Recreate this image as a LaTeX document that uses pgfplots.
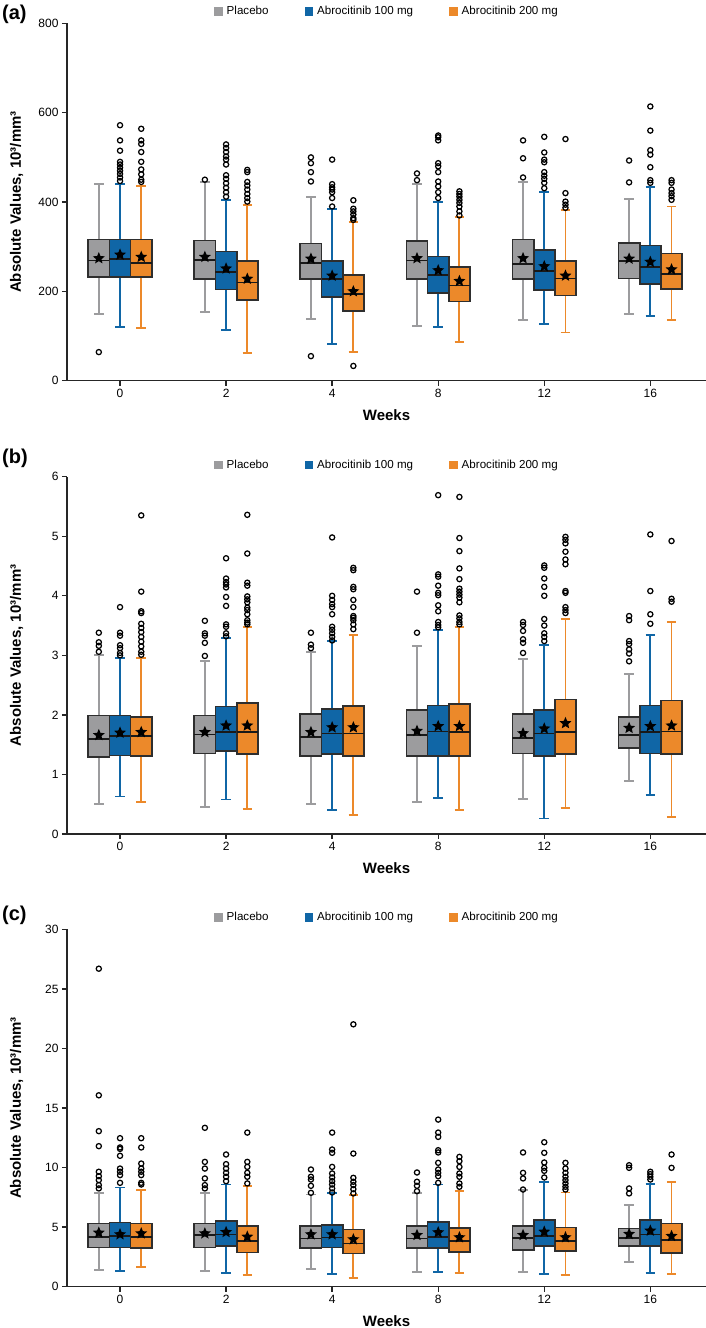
\documentclass[border=0pt]{standalone}
\usepackage{fontspec}
\setmainfont{Liberation Sans}
\usepackage{pgfplots}
\pgfplotsset{compat=1.18}
\usepgfplotslibrary{statistics}

\definecolor{cgray}{RGB}{156,156,158}
\definecolor{cblue}{RGB}{16,102,166}
\definecolor{corange}{RGB}{236,137,42}

\pgfdeclareplotmark{fstar}{%
 \pgfpathmoveto{\pgfpointpolar{90}{\pgfplotmarksize}}%
 \pgfpathlineto{\pgfpointpolar{126}{0.45\pgfplotmarksize}}%
 \pgfpathlineto{\pgfpointpolar{162}{\pgfplotmarksize}}%
 \pgfpathlineto{\pgfpointpolar{198}{0.45\pgfplotmarksize}}%
 \pgfpathlineto{\pgfpointpolar{234}{\pgfplotmarksize}}%
 \pgfpathlineto{\pgfpointpolar{270}{0.45\pgfplotmarksize}}%
 \pgfpathlineto{\pgfpointpolar{306}{\pgfplotmarksize}}%
 \pgfpathlineto{\pgfpointpolar{342}{0.45\pgfplotmarksize}}%
 \pgfpathlineto{\pgfpointpolar{18}{\pgfplotmarksize}}%
 \pgfpathlineto{\pgfpointpolar{54}{0.45\pgfplotmarksize}}%
 \pgfpathclose
 \pgfusepathqfill
}

\pgfplotsset{
 panel/.style={
  scale only axis, width=639pt, height=357.3pt, anchor=south west,
  xmin=-0.5, xmax=5.525,
  boxplot/draw direction=y,
  axis x line*=bottom, axis y line*=left,
  axis line style={line width=1.6pt, black!85},
  xtick={0,...,5}, xticklabels={0,2,4,8,12,16},
  tick align=outside, major tick length=5pt,
  every tick/.style={black!85, line width=1.3pt},
  tick label style={font=\fontsize{12}{13}\selectfont},
  /pgf/number format/assume math mode=true,
  xlabel={Weeks}, ylabel={Absolute Values, 10³/mm³},
  label style={font=\bfseries\fontsize{15}{18}\selectfont},
  xlabel style={at={(axis description cs:0.5,0)}, anchor=base, yshift=-39.7pt},
  ylabel style={at={(axis description cs:-0.072,0.5)}, anchor=base},
  legend columns=3,
  legend style={at={(axis description cs:0.5,1)}, anchor=center, yshift=12pt,
    draw=none, fill=none, inner sep=0pt, font=\fontsize{11.6}{13}\selectfont,
    nodes={inner sep=1pt}, column sep=3.5pt,
    /tikz/every even column/.append style={column sep=35pt}},
 },
 bxs/.style={line width=1.6pt, draw=#1,
   boxplot/draw direction=y,
   boxplot/box extend=0.2, boxplot/whisker extend=0.09,
   boxplot/every box/.style={draw=black!82, line width=1.7pt, fill=#1},
   boxplot/every whisker/.style={draw=#1, line width=1.9pt},
   boxplot/every median/.style={draw=black!90, line width=1.7pt}},
 outl/.style={mark=o, mark size=2.6pt, mark options={draw=black, solid, line width=1.25pt, fill=none}},
 meanstar/.style={only marks, mark=fstar, mark size=6.3pt, black},
}

% #1 position, #2 colour, #3 lower whisker, #4 lower quartile, #5 median,
% #6 upper quartile, #7 upper whisker, #8 outliers
\newcommand{\bx}[8]{%
 \addplot[bxs=#2, boxplot prepared={draw position=#1, lower whisker=#3,
   lower quartile=#4, median=#5, upper quartile=#6, upper whisker=#7}, outl]
   table[row sep=\\, x expr=#1, y index=0]{v\\ #8};
}
\newcommand{\legendset}{%
 \addlegendimage{legend image code/.code={\fill[cgray] (0pt,-3.8pt) rectangle (7.6pt,3.8pt);}}
 \addlegendentry{Placebo}
 \addlegendimage{legend image code/.code={\fill[cblue] (0pt,-3.8pt) rectangle (7.6pt,3.8pt);}}
 \addlegendentry{Abrocitinib 100 mg}
 \addlegendimage{legend image code/.code={\fill[corange] (0pt,-3.8pt) rectangle (7.6pt,3.8pt);}}
 \addlegendentry{Abrocitinib 200 mg}
}

\begin{document}
\begin{tikzpicture}
\useasboundingbox (0pt,0pt) rectangle (706pt,1328pt);

% ---------------- (a) ----------------
\begin{axis}[panel, at={(67pt,947.3pt)}, ymin=0, ymax=800, ytick={0,200,...,800}]
\legendset
\bx{-0.2}{cgray}{150}{232}{269}{316}{440}{64\\}
\bx{0}{cblue}{120}{232}{272}{316}{440}{447\\455\\463\\470\\477\\484\\490\\515\\538\\572\\}
\bx{0.2}{corange}{117}{232}{264}{316}{436}{445\\450\\462\\473\\490\\512\\530\\538\\564\\}
\bx{0.8}{cgray}{153}{228}{271}{314}{444}{450\\}
\bx{1}{cblue}{114}{204}{243}{289}{405}{412\\422\\432\\442\\452\\460\\484\\495\\502\\512\\521\\529\\}
\bx{1.2}{corange}{61}{180}{220}{268}{394}{401\\409\\418\\428\\437\\445\\467\\472\\}
\bx{1.8}{cgray}{138}{227}{264}{307}{412}{55\\446\\467\\487\\500\\}
\bx{2}{cblue}{83}{188}{227}{268}{384}{390\\409\\422\\428\\433\\440\\495\\}
\bx{2.2}{corange}{64}{156}{194}{236}{355}{33\\360\\364\\372\\379\\385\\404\\}
\bx{2.8}{cgray}{123}{228}{269}{313}{440}{449\\464\\}
\bx{3}{cblue}{120}{196}{236}{278}{401}{409\\422\\435\\446\\467\\480\\487\\538\\545\\549\\}
\bx{3.2}{corange}{87}{177}{213}{255}{366}{370\\379\\390\\398\\405\\412\\418\\424\\}
\bx{3.8}{cgray}{136}{228}{262}{316}{444}{455\\498\\538\\}
\bx{4}{cblue}{127}{203}{246}{292}{423}{431\\443\\452\\459\\467\\489\\495\\511\\546\\}
\bx{4.2}{corange}{108}{191}{229}{268}{382}{387\\394\\401\\420\\541\\}
\bx{4.8}{cgray}{149}{229}{268}{309}{407}{444\\493\\}
\bx{5}{cblue}{144}{216}{254}{303}{433}{443\\449\\478\\506\\516\\560\\614\\}
\bx{5.2}{corange}{136}{206}{239}{285}{390}{405\\413\\420\\428\\443\\449\\}
\addplot[meanstar] coordinates {(-0.2,274) (0.8,277) (1.8,273) (2.8,274) (3.8,274) (4.8,273)};
\addplot[meanstar] coordinates {(0,282) (1,251) (2,235) (3,247) (4,256) (5,266)};
\addplot[meanstar] coordinates {(0.2,277) (1.2,228) (2.2,200) (3.2,223) (4.2,235) (5.2,249)};
\end{axis}

% ---------------- (b) ----------------
\begin{axis}[panel, at={(67pt,494pt)}, ymin=0, ymax=6, ytick={0,1,...,6}]
\legendset
\bx{-0.2}{cgray}{0.50}{1.29}{1.59}{1.99}{3.00}{3.06\\3.16\\3.22\\3.38\\}
\bx{0}{cblue}{0.63}{1.32}{1.64}{1.99}{2.96}{3.00\\3.04\\3.12\\3.17\\3.33\\3.38\\3.81\\}
\bx{0.2}{corange}{0.53}{1.31}{1.64}{1.97}{2.96}{3.01\\3.06\\3.15\\3.23\\3.31\\3.39\\3.46\\3.53\\3.71\\3.74\\4.07\\5.35\\}
\bx{0.8}{cgray}{0.45}{1.35}{1.67}{1.99}{2.91}{2.99\\3.21\\3.33\\3.37\\3.58\\}
\bx{1}{cblue}{0.58}{1.39}{1.71}{2.14}{3.29}{3.32\\3.37\\3.48\\3.52\\3.83\\3.98\\4.14\\4.19\\4.23\\4.29\\4.63\\}
\bx{1.2}{corange}{0.42}{1.34}{1.71}{2.20}{3.48}{3.52\\3.55\\3.59\\3.69\\3.76\\3.80\\3.89\\3.94\\3.99\\4.17\\4.22\\4.71\\5.36\\}
\bx{1.8}{cgray}{0.51}{1.31}{1.63}{2.02}{3.06}{3.12\\3.18\\3.38\\}
\bx{2}{cblue}{0.40}{1.34}{1.69}{2.10}{3.24}{3.25\\3.31\\3.37\\3.43\\3.48\\3.69\\3.81\\3.86\\3.93\\4.00\\4.98\\}
\bx{2.2}{corange}{0.32}{1.31}{1.69}{2.15}{3.34}{3.44\\3.52\\3.59\\3.63\\3.66\\3.81\\3.93\\4.11\\4.15\\4.43\\4.47\\}
\bx{2.8}{cgray}{0.53}{1.31}{1.66}{2.08}{3.15}{3.38\\4.07\\}
\bx{3}{cblue}{0.61}{1.31}{1.72}{2.16}{3.43}{3.47\\3.51\\3.56\\3.74\\3.84\\4.01\\4.05\\4.17\\4.32\\4.36\\5.69\\}
\bx{3.2}{corange}{0.40}{1.31}{1.71}{2.18}{3.48}{3.52\\3.56\\3.62\\3.67\\3.89\\3.97\\4.02\\4.07\\4.12\\4.28\\4.46\\4.75\\4.97\\5.66\\}
\bx{3.8}{cgray}{0.59}{1.35}{1.61}{2.01}{2.94}{3.04\\3.21\\3.27\\3.41\\3.51\\3.56\\}
\bx{4}{cblue}{0.26}{1.31}{1.69}{2.08}{3.18}{3.24\\3.31\\3.37\\3.50\\3.61\\4.00\\4.15\\4.29\\4.47\\4.51\\}
\bx{4.2}{corange}{0.43}{1.34}{1.71}{2.26}{3.61}{3.71\\3.76\\3.81\\4.05\\4.08\\4.53\\4.61\\4.74\\4.88\\4.94\\4.99\\}
\bx{4.8}{cgray}{0.89}{1.44}{1.66}{1.96}{2.68}{2.90\\3.03\\3.10\\3.19\\3.24\\3.59\\3.66\\}
\bx{5}{cblue}{0.65}{1.35}{1.71}{2.16}{3.34}{3.53\\3.69\\4.08\\5.03\\}
\bx{5.2}{corange}{0.29}{1.34}{1.72}{2.24}{3.56}{3.90\\3.95\\4.92\\}
\addplot[meanstar] coordinates {(-0.2,1.66) (0.8,1.71) (1.8,1.71) (2.8,1.73) (3.8,1.69) (4.8,1.78)};
\addplot[meanstar] coordinates {(0,1.70) (1,1.82) (2,1.79) (3,1.81) (4,1.77) (5,1.81)};
\addplot[meanstar] coordinates {(0.2,1.71) (1.2,1.82) (2.2,1.79) (3.2,1.81) (4.2,1.86) (5.2,1.82)};
\end{axis}

% ---------------- (c) ----------------
\begin{axis}[panel, at={(67pt,41.3pt)}, ymin=0, ymax=30, ytick={0,5,...,30}]
\legendset
\bx{-0.2}{cgray}{1.40}{3.30}{4.19}{5.31}{7.83}{8.25\\8.53\\8.95\\9.28\\9.65\\11.80\\13.06\\16.07\\26.7\\}
\bx{0}{cblue}{1.34}{3.30}{4.28}{5.40}{8.33}{8.72\\9.37\\9.65\\9.92\\10.99\\11.57\\11.69\\12.47\\}
\bx{0.2}{corange}{1.68}{3.22}{4.19}{5.31}{8.14}{8.58\\8.72\\9.37\\9.65\\9.92\\10.34\\11.69\\12.47\\}
\bx{0.8}{cgray}{1.34}{3.30}{4.33}{5.31}{7.88}{8.25\\8.53\\9.09\\9.92\\10.48\\13.34\\}
\bx{1}{cblue}{1.17}{3.41}{4.39}{5.54}{8.58}{8.86\\9.23\\9.56\\9.92\\10.29\\11.10\\}
\bx{1.2}{corange}{0.98}{2.88}{3.86}{5.12}{8.47}{8.67\\9.23\\9.56\\10.06\\10.48\\12.94\\}
\bx{1.8}{cgray}{1.48}{3.22}{4.05}{5.09}{7.74}{7.88\\8.47\\9.00\\9.23\\9.84\\}
\bx{2}{cblue}{1.03}{3.30}{4.14}{5.17}{7.83}{7.91\\8.25\\8.58\\8.86\\9.17\\9.51\\10.06\\11.24\\11.52\\12.94\\}
\bx{2.2}{corange}{0.75}{2.80}{3.63}{4.81}{7.69}{7.83\\8.19\\8.53\\8.81\\9.14\\11.18\\22.03\\}
\bx{2.8}{cgray}{1.26}{3.27}{4.05}{5.09}{7.83}{8.02\\8.47\\8.81\\9.59\\}
\bx{3}{cblue}{1.26}{3.27}{4.19}{5.42}{8.58}{8.72\\9.28\\9.56\\9.84\\10.40\\11.27\\11.46\\12.58\\12.94\\14.03\\}
\bx{3.2}{corange}{1.17}{2.94}{3.86}{4.95}{8.05}{8.39\\8.67\\9.23\\9.51\\10.06\\10.54\\10.90\\}
\bx{3.8}{cgray}{1.26}{3.08}{4.11}{5.12}{8.11}{8.16\\9.09\\9.56\\11.27\\}
\bx{4}{cblue}{1.06}{3.41}{4.25}{5.59}{8.81}{9.17\\9.73\\9.98\\10.43\\11.24\\12.13\\}
\bx{4.2}{corange}{0.98}{2.99}{3.83}{4.98}{7.91}{8.16\\8.39\\8.67\\8.95\\9.23\\9.56\\9.92\\10.40\\}
\bx{4.8}{cgray}{2.10}{3.44}{4.11}{4.89}{6.85}{7.83\\8.25\\9.98\\10.20\\}
\bx{5}{cblue}{1.17}{3.41}{4.39}{5.59}{8.61}{9.00\\9.23\\9.45\\9.65\\}
\bx{5.2}{corange}{1.06}{2.85}{3.91}{5.31}{8.81}{9.98\\11.10\\}
\addplot[meanstar] coordinates {(-0.2,4.53) (0.8,4.47) (1.8,4.39) (2.8,4.33) (3.8,4.33) (4.8,4.42)};
\addplot[meanstar] coordinates {(0,4.39) (1,4.58) (2,4.39) (3,4.56) (4,4.61) (5,4.70)};
\addplot[meanstar] coordinates {(0.2,4.47) (1.2,4.19) (2.2,3.97) (3.2,4.14) (4.2,4.14) (5.2,4.25)};
\end{axis}

\node[anchor=west, inner sep=0pt, font=\bfseries\fontsize{20}{24}\selectfont] at (2pt,1314pt) {(a)};
\node[anchor=west, inner sep=0pt, font=\bfseries\fontsize{20}{24}\selectfont] at (2pt,870pt) {(b)};
\node[anchor=west, inner sep=0pt, font=\bfseries\fontsize{20}{24}\selectfont] at (2pt,413pt) {(c)};
\end{tikzpicture}
\end{document}
